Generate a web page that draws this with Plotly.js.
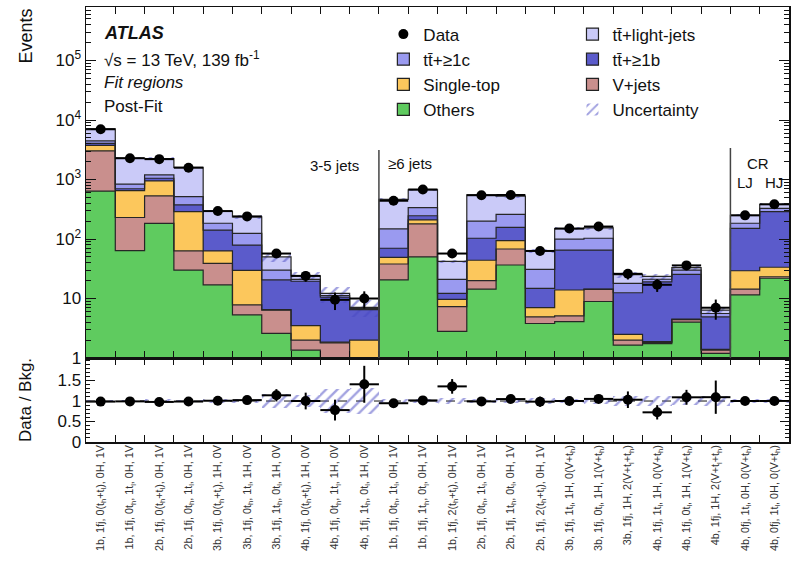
<!DOCTYPE html>
<html><head><meta charset="utf-8">
<script src="https://cdn.plot.ly/plotly-3.0.1.min.js"></script>
<style>html,body{margin:0;padding:0;background:#fff}#plot{width:798px;height:568px}</style>
</head><body><div id="plot"></div>
<script>
// ---- data ----
const binLabels = [
  '1b, 1fj, 0(t<sub>h</sub>+t<sub>l</sub>), 0H, 1V',
  '1b, 1fj, 0t<sub>h</sub>, 1t<sub>l</sub>, 0H, 1V',
  '2b, 1fj, 0(t<sub>h</sub>+t<sub>l</sub>), 0H, 1V',
  '2b, 1fj, 0t<sub>h</sub>, 1t<sub>l</sub>, 0H, 1V',
  '3b, 1fj, 0(t<sub>h</sub>+t<sub>l</sub>), 1H, 0V',
  '3b, 1fj, 0t<sub>h</sub>, 1t<sub>l</sub>, 1H, 0V',
  '3b, 1fj, 1t<sub>h</sub>, 0t<sub>l</sub>, 1H, 0V',
  '4b, 1fj, 0(t<sub>h</sub>+t<sub>l</sub>), 1H, 0V',
  '4b, 1fj, 0t<sub>h</sub>, 1t<sub>l</sub>, 1H, 0V',
  '4b, 1fj, 1t<sub>h</sub>, 0t<sub>l</sub>, 1H, 0V',
  '1b, 1fj, 0t<sub>h</sub>, 1t<sub>l</sub>, 0H, 1V',
  '1b, 1fj, 1t<sub>h</sub>, 0t<sub>l</sub>, 0H, 1V',
  '1b, 1fj, 2(t<sub>h</sub>+t<sub>l</sub>), 0H, 1V',
  '2b, 1fj, 0t<sub>h</sub>, 1t<sub>l</sub>, 0H, 1V',
  '2b, 1fj, 1t<sub>h</sub>, 0t<sub>l</sub>, 0H, 1V',
  '2b, 1fj, 2(t<sub>h</sub>+t<sub>l</sub>), 0H, 1V',
  '3b, 1fj, 1t<sub>l</sub>, 1H, 0(V+t<sub>h</sub>)',
  '3b, 1fj, 0t<sub>l</sub>, 1H, 1(V+t<sub>h</sub>)',
  '3b, 1fj, 1H, 2(V+t<sub>l</sub>+t<sub>h</sub>)',
  '4b, 1fj, 1t<sub>l</sub>, 1H, 0(V+t<sub>h</sub>)',
  '4b, 1fj, 0t<sub>l</sub>, 1H, 1(V+t<sub>h</sub>)',
  '4b, 1fj, 1H, 2(V+t<sub>l</sub>+t<sub>h</sub>)',
  '4b, 0fj, 1t<sub>l</sub>, 0H, 0(V+t<sub>h</sub>)',
  '4b, 0fj, 1t<sub>l</sub>, 0H, 0(V+t<sub>h</sub>)'
];
const others    = [640, 64, 183, 30, 17, 5.3, 2.6, 1.36, 0.5, 0.4, 20.5, 50, 2.8, 14.4, 36.6, 3.8, 4.1, 8.9, 1.65, 1.75, 4.0, 1.2, 11.5, 21.9];
const vjets     = [2400, 166, 347, 33, 22, 2.5, 3.8, 0.64, 1.3, 0.4, 17.5, 129, 4.5, 5.6, 31.4, 1.1, 1.0, 5.3, 0.35, 0.08, 0.4, 0.15, 2.9, 1.3];
const singleTop = [710, 420, 420, 225, 24, 22, 0.1, 1.5, 0.05, 1.2, 11, 30, 2.4, 24, 26, 2.1, 8.8, 0.2, 0.5, 0.05, 0.1, 0.05, 14.9, 10.3];
const ttb       = [300, 50, 100, 86, 78, 49, 14, 16, 8.65, 4.5, 21, 37, 2.5, 59, 63, 7.8, 51, 50.6, 10, 17.2, 21, 3.5, 121.7, 254.5];
const ttc       = [400, 140, 150, 141, 43, 46, 9.5, 1.5, 0.7, 0.3, 78, 90, 8.8, 97, 103, 16.2, 35, 38, 5.5, 2, 4.5, 0.7, 33, 40];
const ttlight   = [2650, 1460, 1050, 1085, 109, 110, 20, 3, 1.0, 0.3, 317, 334, 21, 350, 265, 33, 50, 51, 7.2, 2.4, 3, 0.8, 66, 55];
const dataVals  = [7000, 2280, 2200, 1580, 295, 240, 57, 24, 9.5, 10, 440, 680, 57, 545, 550, 63, 150, 162, 26, 17, 36, 7, 250, 383];
const dataErr   = [84, 48, 47, 40, 17, 15.5, 7.5, 4.9, 3.1, 3.2, 21, 26, 7.5, 23, 23, 7.9, 12, 12.7, 5.1, 4.1, 6, 2.6, 15.8, 19.6];
const relUnc    = [0.03, 0.03, 0.06, 0.03, 0.04, 0.06, 0.18, 0.15, 0.3, 0.32, 0.04, 0.04, 0.07, 0.04, 0.06, 0.08, 0.05, 0.07, 0.12, 0.12, 0.1, 0.13, 0.04, 0.04];

const FONT = 'Liberation Sans, Arial, Helvetica, sans-serif';
const nBins = binLabels.length;
const binX = binLabels.map((_, i) => i + 0.5);
const edges = Array.from({length: nBins + 1}, (_, i) => i);

const comps = [
  {name: 'Others', vals: others, color: '#5fcb5f', legend: 'legend', rank: 4},
  {name: 'V+jets', vals: vjets, color: '#c98f8d', legend: 'legend2', rank: 3},
  {name: 'Single-top', vals: singleTop, color: '#fcc75c', legend: 'legend', rank: 3},
  {name: 't\u0074\u0304+\u22651b', vals: ttb, color: '#5b5bcb', legend: 'legend2', rank: 2},
  {name: 't\u0074\u0304+\u22651c', vals: ttc, color: '#9a9af0', legend: 'legend', rank: 2},
  {name: 't\u0074\u0304+light-jets', vals: ttlight, color: '#cacaf8', legend: 'legend2', rank: 1}
];
// cumulative stack
const cum = [];
comps.forEach((c, k) => {
  cum.push(c.vals.map((v, i) => v + (k > 0 ? cum[k - 1][i] : 0)));
});
const total = cum[cum.length - 1];

const traces = [];
for (let k = comps.length - 1; k >= 0; k--) {
  traces.push({
    type: 'bar', x: binX, y: cum[k], width: 1, name: comps[k].name,
    marker: {color: comps[k].color, line: {width: 0}}, showlegend: false,
    xaxis: 'x', yaxis: 'y', hoverinfo: 'skip'
  });
}
// legend swatches (outlined boxes, no data drawn)
for (let k = comps.length - 1; k >= 0; k--) {
  traces.push({
    type: 'bar', x: [null], y: [null], name: comps[k].name,
    marker: {color: comps[k].color, line: {width: 1.2, color: '#222'}},
    legend: comps[k].legend, legendrank: comps[k].rank, xaxis: 'x', yaxis: 'y', hoverinfo: 'skip'
  });
}
// step outlines of each stacked component
for (let k = comps.length - 1; k >= 0; k--) {
  traces.push({
    type: 'scatter', mode: 'lines', x: edges, y: cum[k].concat([cum[k][nBins - 1]]),
    line: {shape: 'hv', color: '#262626', width: 1.2},
    showlegend: false, xaxis: 'x', yaxis: 'y', hoverinfo: 'skip'
  });
}
const hatch = {color: 'rgba(0,0,0,0)', line: {width: 0},
  pattern: {shape: '/', fgcolor: '#4646c2', bgcolor: 'rgba(0,0,0,0)', size: 8, solidity: 0.3, fillmode: 'overlay'}};
traces.push({
  type: 'bar', x: binX, width: 1, name: 'Uncertainty',
  base: total.map((t, i) => t * (1 - relUnc[i])),
  y: total.map((t, i) => 2 * t * relUnc[i]),
  marker: hatch, legend: 'legend2', legendrank: 4, xaxis: 'x', yaxis: 'y', hoverinfo: 'skip'
});
traces.push({
  type: 'scatter', mode: 'markers', x: binX, y: dataVals, name: 'Data',
  marker: {color: '#000', size: 10, symbol: 'circle'},
  error_y: {type: 'data', array: dataErr, color: '#000', thickness: 2, width: 0},
  error_x: {type: 'constant', value: 0.5, color: '#000', thickness: 2, width: 0},
  legend: 'legend', legendrank: 1, xaxis: 'x', yaxis: 'y'
});
// ratio panel
const ratio = dataVals.map((d, i) => d / total[i]);
const ratioErr = dataErr.map((e, i) => e / total[i]);
traces.push({
  type: 'bar', x: binX, width: 1, showlegend: false,
  base: relUnc.map(u => 1 - u), y: relUnc.map(u => 2 * u),
  marker: hatch, xaxis: 'x2', yaxis: 'y2', hoverinfo: 'skip'
});
traces.push({
  type: 'scatter', mode: 'markers', x: binX, y: ratio, showlegend: false,
  marker: {color: '#000', size: 10},
  error_y: {type: 'data', array: ratioErr, color: '#000', thickness: 2, width: 0},
  error_x: {type: 'constant', value: 0.5, color: '#000', thickness: 2, width: 0},
  xaxis: 'x2', yaxis: 'y2'
});
// carrier for the label axis
traces.push({type: 'scatter', mode: 'markers', x: [binX[0]], y: [-1], marker: {opacity: 0},
  showlegend: false, xaxis: 'x3', yaxis: 'y2', hoverinfo: 'skip'});

const lowFrac = 84 / 435;
const minorLog = [];
for (let d = 0; d < 6; d++) for (let m = 2; m <= 9; m++) minorLog.push(m * Math.pow(10, d));

const axLine = {showline: true, linecolor: '#111', linewidth: 1.5, showgrid: false, zeroline: false, tickcolor: '#111'};
const ydom = p => (358 - p) / 351;   // pixel row -> upper panel domain fraction

const layout = {
  width: 798, height: 568,
  margin: {l: 86, r: 9, t: 7, b: 126},
  paper_bgcolor: '#fff', plot_bgcolor: '#fff',
  barmode: 'overlay', bargap: 0,
  font: {family: FONT, size: 17, color: '#111'},
  xaxis: Object.assign({}, axLine, {domain: [0, 1], anchor: 'y', range: [0, nBins], tickmode: 'linear', tick0: 0, dtick: 1,
    ticks: 'inside', ticklen: 7, tickwidth: 1, showticklabels: false, mirror: 'ticks'}),
  yaxis: Object.assign({}, axLine, {domain: [lowFrac, 1], anchor: 'x', type: 'log', range: [0, 5.9],
    tickmode: 'array', tickvals: [1, 10, 100, 1000, 1e4, 1e5],
    ticktext: ['1', '10', '10<sup>2</sup>', '10<sup>3</sup>', '10<sup>4</sup>', '10<sup>5</sup>'],
    ticks: 'inside', ticklen: 10, tickwidth: 1, mirror: 'ticks', tickfont: {size: 17},
    minor: {tickmode: 'array', tickvals: minorLog, ticks: 'inside', ticklen: 5, tickwidth: 1, tickcolor: '#111'}}),
  xaxis2: Object.assign({}, axLine, {domain: [0, 1], anchor: 'y2', range: [0, nBins], tickmode: 'linear', tick0: 0, dtick: 1,
    ticks: 'inside', ticklen: 7, tickwidth: 1, showticklabels: false, mirror: 'ticks'}),
  yaxis2: Object.assign({}, axLine, {domain: [0, lowFrac], anchor: 'x2', range: [0, 2.05],
    tickmode: 'array', tickvals: [0, 0.5, 1, 1.5], ticktext: ['0', '0.5', '1', '1.5'],
    ticks: 'inside', ticklen: 9, tickwidth: 1, mirror: 'ticks', tickfont: {size: 17},
    minor: {dtick: 0.1, tick0: 0, ticks: 'inside', ticklen: 4, tickwidth: 1, tickcolor: '#111'}}),
  xaxis3: {overlaying: 'x2', anchor: 'y2', side: 'bottom', range: [0, nBins], tickmode: 'array',
    tickvals: binX, ticktext: binLabels, tickangle: -90, ticks: '', showline: false, showgrid: false, zeroline: false,
    tickfont: {size: 10.8, color: '#333'}},
  legend: {x: 0.423, y: 0.978, xanchor: 'left', yanchor: 'top', bgcolor: 'rgba(0,0,0,0)', font: {size: 17}, itemwidth: 30, tracegroupgap: 0},
  legend2: {x: 0.692, y: 0.978, xanchor: 'left', yanchor: 'top', bgcolor: 'rgba(0,0,0,0)', font: {size: 17}, itemwidth: 30, tracegroupgap: 0},
  shapes: [
    {type: 'line', xref: 'x', yref: 'y domain', x0: 10, x1: 10, y0: 0, y1: ydom(150), line: {color: '#444', width: 1.5}},
    {type: 'line', xref: 'x', yref: 'y domain', x0: 22, x1: 22, y0: 0, y1: ydom(148), line: {color: '#444', width: 1.5}},
    {type: 'line', xref: 'x2', yref: 'y2', x0: 0, x1: nBins, y0: 1, y1: 1, layer: 'below', line: {color: '#111', width: 1, dash: 'dash'}}
  ],
  annotations: [
    {text: '<b><i>ATLAS</i></b>', xref: 'paper', yref: 'y domain', x: 0.023, y: ydom(33), xanchor: 'left', yanchor: 'middle', showarrow: false, font: {size: 18}},
    {text: '\u221As = 13 TeV, 139 fb<sup>-1</sup>', xref: 'paper', yref: 'y domain', x: 0.023, y: ydom(59), xanchor: 'left', yanchor: 'middle', showarrow: false, font: {size: 17}},
    {text: '<i>Fit regions</i>', xref: 'paper', yref: 'y domain', x: 0.023, y: ydom(82), xanchor: 'left', yanchor: 'middle', showarrow: false, font: {size: 17}},
    {text: 'Post-Fit', xref: 'paper', yref: 'y domain', x: 0.023, y: ydom(106), xanchor: 'left', yanchor: 'middle', showarrow: false, font: {size: 17}},
    {text: '3-5 jets', xref: 'x', yref: 'y domain', x: 8.5, y: ydom(165), showarrow: false, font: {size: 15}},
    {text: '\u22656 jets', xref: 'x', yref: 'y domain', x: 11.05, y: ydom(163), showarrow: false, font: {size: 15}},
    {text: 'CR', xref: 'x', yref: 'y domain', x: 22.95, y: ydom(163), showarrow: false, font: {size: 15}},
    {text: 'LJ', xref: 'x', yref: 'y domain', x: 22.5, y: ydom(183), showarrow: false, font: {size: 15}},
    {text: 'HJ', xref: 'x', yref: 'y domain', x: 23.5, y: ydom(183), showarrow: false, font: {size: 15}},
    {text: 'Events', xref: 'paper', yref: 'paper', x: (25 - 86) / 703, y: 1.0, xanchor: 'center', yanchor: 'top', textangle: -90, showarrow: false, font: {size: 18}},
    {text: 'Data / Bkg.', xref: 'paper', yref: 'paper', x: (25 - 86) / 703, y: lowFrac / 2, xanchor: 'center', yanchor: 'middle', textangle: -90, showarrow: false, font: {size: 17}}
  ]
};

Plotly.newPlot('plot', traces, layout, {staticPlot: true, displayModeBar: false});
</script>
</body></html>
